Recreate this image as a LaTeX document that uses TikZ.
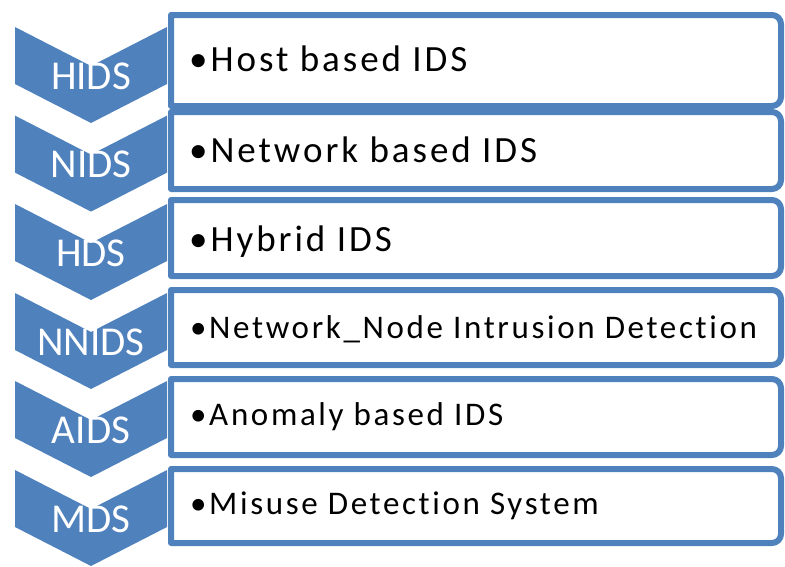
\documentclass[tikz,border=0pt]{standalone}
\usepackage{fontspec}
\setmainfont{Carlito}
\newfontfamily\boxfont[LetterSpace=8,Ligatures=NoCommon]{Carlito}
\definecolor{acc}{HTML}{4F81BD}
\begin{document}
\begin{tikzpicture}[x=1pt,y=1pt,
  chev/.style={fill=acc, draw=none},
  boxst/.style={draw=acc, line width=6pt, fill=white, line join=round},
  lab/.style={text=white, font=\fontsize{41}{41}\selectfont, inner sep=0pt, anchor=base},
  item/.style={text=black, font=\boxfont\fontsize{33}{33}\selectfont, inner sep=0pt, anchor=base west},
  itembig/.style={item, font=\boxfont\fontsize{37}{37}\selectfont}]
\useasboundingbox (0,0) rectangle (785,-566);
% chevrons
\foreach \t/\lab/\nm in {27/HIDS/ch1, 115.6/NIDS/ch2, 204/HDS/ch3, 293/NNIDS/ch4, 381/AIDS/ch5, 470/MDS/ch6}{
  \fill[chev] (15,-\t) -- (91,{-\t-39}) -- (167,-\t) -- (167,{-\t-57}) -- (91,{-\t-96}) -- (15,{-\t-57}) -- cycle;
  \node[lab] (\nm) at (91,{-\t-62}) {\lab};
}
% boxes
\foreach \a/\b in {15/106, 112/189, 200/276, 290/365, 379/455, 469/543}{
  \draw[boxst] (171,-\a) -- (772,-\a) arc[start angle=90,end angle=0,radius=9] -- (781,{-\b+9}) arc[start angle=0,end angle=-90,radius=9] -- (171,-\b) -- cycle;
}
\node[itembig] (t1) at (189,-71) {•Host based IDS};
\node[itembig] (t2) at (189,-162) {•Network based IDS};
\node[itembig] (t3) at (189,-251) {•Hybrid IDS};
\node[item] (t4) at (190,-338) {•Network\_Node Intrusion Detection};
\node[item] (t5) at (190,-425) {•Anomaly based IDS};
\node[item] (t6) at (190,-514) {•Misuse Detection System};
\end{tikzpicture}
\end{document}
